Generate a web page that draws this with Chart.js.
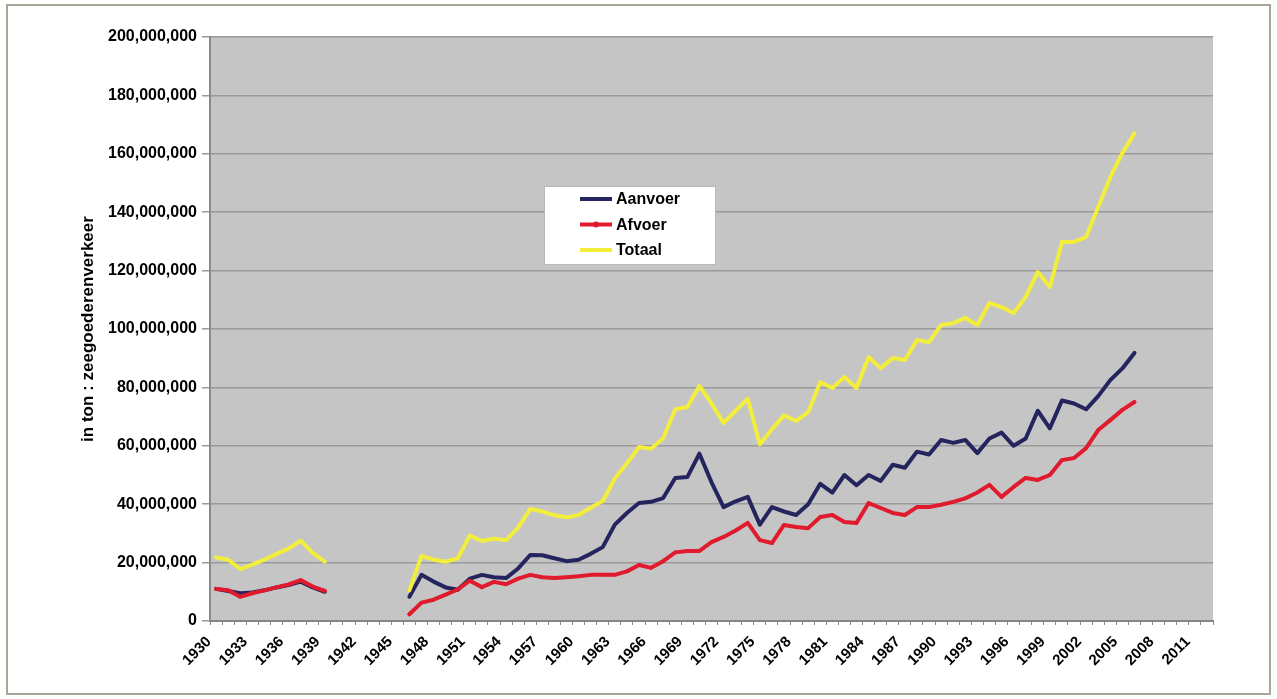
<!DOCTYPE html>
<html>
<head>
<meta charset="utf-8">
<script src="https://cdn.jsdelivr.net/npm/chart.js@4/dist/chart.umd.min.js"></script>
<style>
html,body{margin:0;padding:0;background:#fff;overflow:hidden;}
#wrap{position:absolute;left:0;top:0;width:1277px;height:699px;}
</style>
</head>
<body>
<div id="wrap"><canvas id="c" width="1277" height="699"></canvas></div>
<script>
// Categories (years) on the x axis
const years = ['1930','1931','1932','1933','1934','1935','1936','1937','1938','1939',
'1940','1941','1942','1943','1944','1945','1946','1947','1948','1949',
'1950','1951','1952','1953','1954','1955','1956','1957','1958','1959',
'1960','1961','1962','1963','1964','1965','1966','1967','1968','1969',
'1970','1971','1972','1973','1974','1975','1976','1977','1978','1979',
'1980','1981','1982','1983','1984','1985','1986','1987','1988','1989',
'1990','1991','1992','1993','1994','1995','1996','1997','1998','1999',
'2000','2001','2002','2003','2004','2005','2006','2007','2008','2009',
'2010','2011','2012'];

// Labelled x ticks
const xTickLabels = ['1930','1933','1936','1939','1942','1945','1948','1951','1954','1957',
'1960','1963','1966','1969','1972','1975','1978','1981','1984','1987','1990','1993',
'1996','1999','2002','2005','2008','2011'];

// Series values, in millions of tonnes (null = no data)
const aanvoerMln = [11,10.3,9.5,9.8,10.5,11.5,12.3,13.5,11.5,10,
null,null,null,null,null,null,8.3,15.8,13.5,11.5,
10.7,14.5,15.8,15,14.7,18,22.6,22.5,21.5,20.5,
21,23,25.3,33,37,40.4,40.8,42.1,49,49.3,
57.3,47.5,39,41,42.5,33,39,37.5,36.3,40,
47,44,50,46.5,50,48,53.5,52.5,58,57,
62,61,62,57.5,62.5,64.5,60,62.5,72,66,
75.5,74.5,72.5,77,82.5,86.5,91.8,null,null,null,
null,null,null];

const afvoerMln = [11,10.5,8.3,9.5,10.5,11.5,12.5,14,11.8,10.3,
null,null,null,null,null,null,2.3,6.3,7.3,9,
10.8,13.8,11.6,13.4,12.6,14.5,15.8,15,14.7,15,
15.3,15.8,15.8,15.8,17,19.2,18.2,20.5,23.5,24,
24,27,28.8,31,33.6,27.7,26.7,32.9,32.2,31.8,
35.6,36.3,33.9,33.6,40.4,38.7,37,36.3,39,39,
39.8,40.8,42,44,46.6,42.5,45.9,49,48.3,50,
55.1,55.8,59.2,65.4,68.8,72.3,75,null,null,null,
null,null,null];

const totaalMln = [21.8,21,17.8,19.3,21,23,24.8,27.5,23.3,20.3,
null,null,null,null,null,null,10.5,22.3,21,20.3,
21.5,29.3,27.4,28.2,27.7,32,38.4,37.5,36.2,35.5,
36.3,38.8,41.1,48.8,54,59.6,59,62.6,72.5,73.3,
80.5,74.5,67.8,72,76.1,60.5,65.7,70.4,68.5,71.5,
81.8,79.8,83.6,79.8,90.4,86.6,90.1,89.4,96.2,95.5,
101.4,102,103.8,101.4,108.9,107.5,105.5,111,119.5,114.4,
129.8,129.8,131.5,141.8,152,160.3,167,null,null,null,
null,null,null];

const seriesNames = ['Aanvoer','Afvoer','Totaal'];
const seriesColors = ['#24245e','#e01b2d','#f3ee3c'];

const toTons = arr => arr.map(v => v === null ? null : v * 1000000);

Chart.defaults.font.family = "'Liberation Sans', Arial, sans-serif";
Chart.defaults.color = '#000';

const bgPlugin = {
  id: 'bgPlugin',
  beforeDraw(chart) {
    const {ctx, chartArea: a} = chart;
    ctx.save();
    ctx.fillStyle = '#ffffff';
    ctx.fillRect(0, 0, chart.width, chart.height);
    ctx.strokeStyle = '#a6a696';
    ctx.lineWidth = 2;
    ctx.strokeRect(7, 5, 1263, 689);
    ctx.fillStyle = '#c5c5c5';
    ctx.fillRect(a.left, a.top, a.right - a.left, a.bottom - a.top);
    ctx.restore();
  }
};

const legendPlugin = {
  id: 'boxLegend',
  afterDatasetsDraw(chart) {
    const {ctx, chartArea: a} = chart;
    const bx = a.left + 334, by = a.top + 149, bw = 172, bh = 79;
    ctx.save();
    ctx.fillStyle = '#ffffff';
    ctx.fillRect(bx, by, bw, bh);
    ctx.strokeStyle = '#b8b8b8';
    ctx.lineWidth = 1;
    ctx.strokeRect(bx + 0.5, by + 0.5, bw - 1, bh - 1);
    ctx.font = "bold 16px 'Liberation Sans', Arial, sans-serif";
    ctx.textBaseline = 'middle';
    ctx.textAlign = 'left';
    chart.data.datasets.forEach((ds, i) => {
      const y = by + 13 + i * 25.5;
      ctx.strokeStyle = ds.borderColor;
      ctx.lineWidth = 4;
      ctx.beginPath();
      ctx.moveTo(bx + 36, y);
      ctx.lineTo(bx + 68, y);
      ctx.stroke();
      if (ds.pointRadius > 0) {
        ctx.fillStyle = ds.borderColor;
        ctx.beginPath();
        ctx.arc(bx + 52, y, 3, 0, Math.PI * 2);
        ctx.fill();
      }
      ctx.fillStyle = '#000';
      ctx.fillText(ds.label, bx + 72, y + 1);
    });
    ctx.restore();
  }
};

new Chart(document.getElementById('c'), {
  type: 'line',
  data: {
    labels: years,
    datasets: [
      {label: seriesNames[0], data: toTons(aanvoerMln), borderColor: seriesColors[0], backgroundColor: seriesColors[0],
       borderWidth: 4, pointRadius: 0, order: 3, tension: 0, spanGaps: false, borderJoinStyle: 'round', borderCapStyle: 'round'},
      {label: seriesNames[1], data: toTons(afvoerMln), borderColor: seriesColors[1], backgroundColor: seriesColors[1],
       borderWidth: 4, pointRadius: 1.8, pointBorderWidth: 0, pointBackgroundColor: seriesColors[1], order: 2, tension: 0, spanGaps: false, borderJoinStyle: 'round', borderCapStyle: 'round'},
      {label: seriesNames[2], data: toTons(totaalMln), borderColor: seriesColors[2], backgroundColor: seriesColors[2],
       borderWidth: 4, pointRadius: 0, order: 1, tension: 0, spanGaps: false, borderJoinStyle: 'round', borderCapStyle: 'round'}
    ]
  },
  options: {
    responsive: false,
    devicePixelRatio: 1,
    animation: false,
    events: [],
    layout: {padding: {left: 74, top: 37, right: 64, bottom: 0}},
    plugins: {legend: {display: false}, tooltip: {enabled: false}},
    scales: {
      x: {
        type: 'category',
        offset: true,
        grid: {display: true, drawOnChartArea: false, drawTicks: true, tickLength: 4, color: '#8a8a8a', offset: true},
        border: {display: true, color: '#858585', width: 2},
        ticks: {
          autoSkip: false, minRotation: 45, maxRotation: 45, padding: 8, labelOffset: -7,
          font: {size: 15, weight: 'bold'}, color: '#000',
          callback: function(val) {
            const l = this.getLabelForValue(val);
            return xTickLabels.includes(l) ? l : '';
          }
        },
        afterFit: s => { s.height = 78; }
      },
      y: {
        min: 0, max: 200000000,
        grid: {color: '#9a9a9a', lineWidth: 1.5, tickLength: 8, drawTicks: true},
        border: {display: true, color: '#8a8a8a', width: 2},
        ticks: {
          stepSize: 20000000, padding: 5,
          font: {size: 16, weight: 'bold'}, color: '#000',
          callback: v => Number(v).toLocaleString('en-US')
        },
        title: {display: true, text: 'in ton : zeegoederenverkeer', font: {size: 17, weight: 'bold'}, color: '#000', padding: {top: 4, bottom: 4}},
        afterFit: s => { s.width = 136; }
      }
    }
  },
  plugins: [bgPlugin, legendPlugin]
});
</script>
</body>
</html>
